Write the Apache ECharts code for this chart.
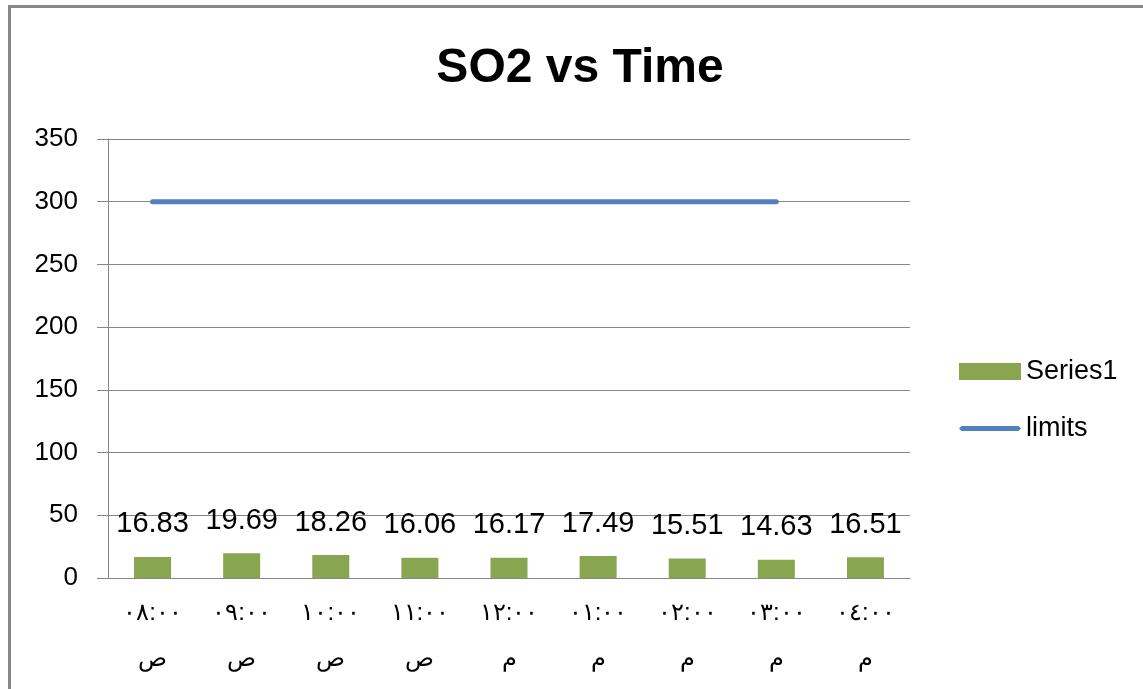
<!DOCTYPE html>
<html>
<head>
<meta charset="utf-8">
<script src="https://cdn.jsdelivr.net/npm/echarts@6/dist/echarts.min.js"></script>
<style>
  html, body { margin: 0; padding: 0; background: #fff; }
  #chart { position: absolute; left: 0; top: 0; width: 1143px; height: 689px; }
  #frame { position: absolute; left: 8px; top: 5px; width: 1200px; height: 700px;
           border-top: 3px solid #878787; border-left: 3px solid #878787; pointer-events: none; }
</style>
</head>
<body>
<div id="chart"></div>
<div id="frame"></div>
<script>
const categories = [
  '٠٨:٠٠\nص', '٠٩:٠٠\nص', '١٠:٠٠\nص', '١١:٠٠\nص', '١٢:٠٠\nم',
  '٠١:٠٠\nم', '٠٢:٠٠\nم', '٠٣:٠٠\nم', '٠٤:٠٠\nم'
]
const series1 = [16.83, 19.69, 18.26, 16.06, 16.17, 17.49, 15.51, 14.63, 16.51]
const limits = [300, 300, 300, 300, 300, 300, 300, 300, null]

const font = '"Liberation Sans", Arial, sans-serif'
// thin bar inside a 62x17 box, so the legend icon looks like the line
const lineIcon = 'path://M0,0M62,17M2.5,6L59.5,6L62,8.5L59.5,11L2.5,11L0,8.5Z'

const chart = echarts.init( document.getElementById( 'chart' ) )

chart.setOption( {
  animation : false,
  backgroundColor : '#fff',
  title : {
    text : 'SO2 vs Time',
    left : 575,
    textAlign : 'center',
    top : 40,
    textStyle : { fontFamily : font, fontSize : 48, fontWeight : 'bold', color : '#000' }
  },
  legend : {
    orient : 'vertical',
    left : 954,
    top : 353,
    itemWidth : 62,
    itemHeight : 17,
    itemGap : 30,
    textStyle : { fontFamily : font, fontSize : 27, color : '#000', padding : [0, 0, 0, 0] },
    data : [
      { name : 'Series1', icon : 'rect' },
      { name : 'limits', icon : lineIcon }
    ]
  },
  grid : {
    left : 108,
    right : 233,
    top : 139,
    bottom : 111,
    containLabel : false,
    outerBoundsMode : 'none'
  },
  xAxis : {
    type : 'category',
    data : categories,
    axisLine : { lineStyle : { color : '#868686', width : 1 } },
    axisTick : { length : 10, lineStyle : { color : '#868686' } },
    axisLabel : {
      fontFamily : font,
      fontSize : 24,
      color : '#000',
      lineHeight : 46,
      margin : 12,
      interval : 0
    }
  },
  yAxis : {
    type : 'value',
    min : 0,
    max : 350,
    interval : 50,
    axisLine : { show : true, lineStyle : { color : '#868686', width : 1 } },
    axisTick : { show : true, length : 11, lineStyle : { color : '#868686' } },
    splitLine : { lineStyle : { color : '#868686', width : 1 } },
    axisLabel : { fontFamily : font, fontSize : 26, color : '#000', margin : 30 }
  },
  series : [
    {
      name : 'Series1',
      type : 'bar',
      data : series1,
      barWidth : 37,
      itemStyle : { color : '#88a64f' },
      label : {
        show : true,
        position : 'top',
        distance : 18,
        fontFamily : font,
        fontSize : 29,
        color : '#000',
        formatter : p => p.value.toFixed( 2 )
      }
    },
    {
      name : 'limits',
      type : 'line',
      data : limits,
      symbol : 'none',
      lineStyle : { color : '#4f81bd', width : 5, cap : 'round' },
      itemStyle : { color : '#4f81bd' }
    }
  ]
} )
</script>
</body>
</html>
